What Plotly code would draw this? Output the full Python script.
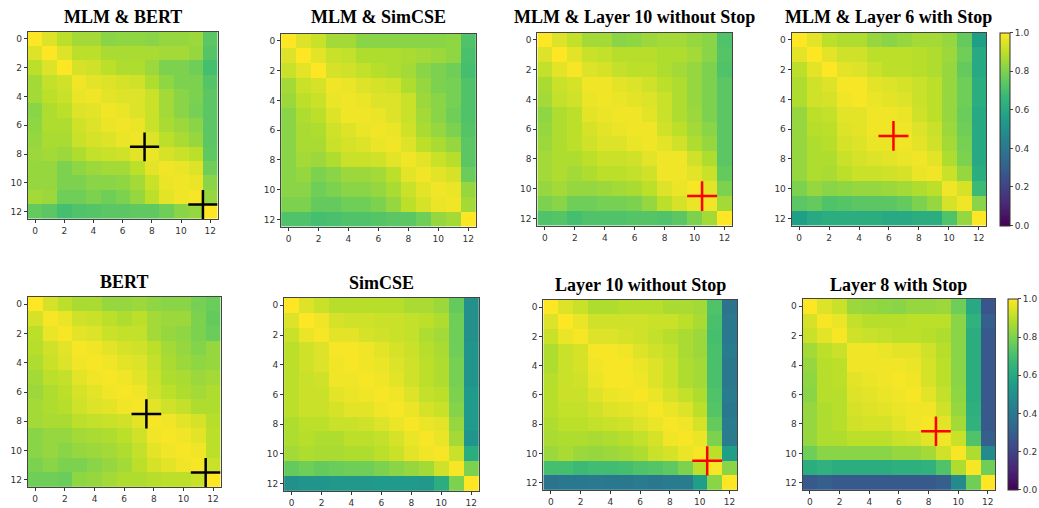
import plotly.graph_objects as go

W, H = 1039, 508

layers = list(range(13))
tick_vals = [0, 2, 4, 6, 8, 10, 12]
cbar_ticks = [0.0, 0.2, 0.4, 0.6, 0.8, 1.0]

titles = ['MLM & BERT', 'MLM & SimCSE', 'MLM & Layer 10 without Stop', 'MLM & Layer 6 with Stop',
          'BERT', 'SimCSE', 'Layer 10 without Stop', 'Layer 8 with Stop']

mlm_bert = [
    [1.00, 0.95, 0.90, 0.86, 0.86, 0.82, 0.83, 0.83, 0.82, 0.84, 0.84, 0.85, 0.74],
    [0.95, 1.00, 0.95, 0.90, 0.90, 0.87, 0.87, 0.87, 0.87, 0.86, 0.86, 0.84, 0.73],
    [0.90, 0.95, 1.00, 0.94, 0.93, 0.90, 0.88, 0.88, 0.85, 0.80, 0.80, 0.78, 0.70],
    [0.86, 0.91, 0.93, 0.98, 0.96, 0.95, 0.94, 0.93, 0.88, 0.83, 0.80, 0.80, 0.73],
    [0.86, 0.90, 0.92, 0.97, 0.98, 0.96, 0.95, 0.95, 0.92, 0.86, 0.82, 0.80, 0.74],
    [0.82, 0.88, 0.90, 0.95, 0.96, 0.98, 0.97, 0.95, 0.92, 0.86, 0.82, 0.79, 0.74],
    [0.83, 0.88, 0.88, 0.93, 0.95, 0.97, 0.98, 0.97, 0.92, 0.87, 0.85, 0.82, 0.74],
    [0.84, 0.87, 0.87, 0.92, 0.94, 0.95, 0.97, 0.98, 0.95, 0.90, 0.87, 0.84, 0.74],
    [0.85, 0.86, 0.85, 0.88, 0.91, 0.92, 0.93, 0.96, 0.97, 0.94, 0.92, 0.90, 0.75],
    [0.84, 0.84, 0.80, 0.83, 0.85, 0.86, 0.86, 0.90, 0.96, 0.98, 0.97, 0.95, 0.78],
    [0.84, 0.84, 0.80, 0.80, 0.82, 0.82, 0.83, 0.86, 0.92, 0.97, 0.98, 0.97, 0.82],
    [0.86, 0.85, 0.78, 0.78, 0.80, 0.78, 0.80, 0.84, 0.90, 0.96, 0.98, 0.99, 0.84],
    [0.76, 0.74, 0.70, 0.72, 0.73, 0.74, 0.74, 0.75, 0.75, 0.78, 0.82, 0.84, 1.00],
]

mlm_simcse = [
    [1.00, 0.95, 0.92, 0.86, 0.86, 0.82, 0.82, 0.82, 0.82, 0.82, 0.82, 0.83, 0.72],
    [0.95, 1.00, 0.96, 0.92, 0.91, 0.88, 0.88, 0.88, 0.87, 0.86, 0.85, 0.83, 0.71],
    [0.92, 0.96, 1.00, 0.94, 0.93, 0.91, 0.89, 0.88, 0.86, 0.82, 0.80, 0.78, 0.70],
    [0.86, 0.92, 0.94, 0.98, 0.97, 0.95, 0.94, 0.93, 0.88, 0.84, 0.80, 0.79, 0.72],
    [0.85, 0.90, 0.92, 0.97, 0.98, 0.97, 0.95, 0.95, 0.92, 0.85, 0.82, 0.79, 0.72],
    [0.82, 0.88, 0.90, 0.95, 0.98, 0.98, 0.97, 0.95, 0.92, 0.86, 0.82, 0.78, 0.72],
    [0.82, 0.87, 0.88, 0.93, 0.95, 0.97, 0.98, 0.97, 0.93, 0.87, 0.84, 0.80, 0.73],
    [0.82, 0.87, 0.87, 0.92, 0.94, 0.95, 0.97, 0.98, 0.95, 0.90, 0.87, 0.84, 0.74],
    [0.82, 0.86, 0.85, 0.88, 0.92, 0.92, 0.93, 0.96, 0.98, 0.96, 0.92, 0.89, 0.74],
    [0.82, 0.84, 0.80, 0.82, 0.85, 0.85, 0.86, 0.90, 0.96, 0.98, 0.96, 0.94, 0.77],
    [0.82, 0.82, 0.78, 0.80, 0.82, 0.82, 0.84, 0.87, 0.92, 0.96, 0.98, 0.97, 0.84],
    [0.80, 0.80, 0.76, 0.76, 0.78, 0.78, 0.80, 0.84, 0.90, 0.94, 0.97, 0.98, 0.86],
    [0.72, 0.72, 0.70, 0.71, 0.72, 0.72, 0.73, 0.74, 0.74, 0.78, 0.84, 0.86, 1.00],
]

mlm_layer10 = [
    [1.00, 0.95, 0.91, 0.86, 0.86, 0.82, 0.83, 0.85, 0.86, 0.86, 0.84, 0.82, 0.72],
    [0.95, 1.00, 0.96, 0.92, 0.91, 0.89, 0.89, 0.89, 0.88, 0.88, 0.86, 0.82, 0.73],
    [0.91, 0.96, 0.99, 0.95, 0.94, 0.91, 0.90, 0.90, 0.88, 0.86, 0.84, 0.80, 0.72],
    [0.87, 0.92, 0.94, 0.98, 0.98, 0.96, 0.95, 0.93, 0.90, 0.88, 0.84, 0.80, 0.74],
    [0.86, 0.91, 0.93, 0.97, 0.98, 0.97, 0.96, 0.95, 0.92, 0.88, 0.84, 0.80, 0.74],
    [0.83, 0.88, 0.90, 0.96, 0.97, 0.98, 0.98, 0.96, 0.92, 0.88, 0.85, 0.80, 0.74],
    [0.84, 0.88, 0.90, 0.94, 0.96, 0.97, 0.98, 0.98, 0.93, 0.90, 0.86, 0.82, 0.74],
    [0.85, 0.88, 0.90, 0.93, 0.95, 0.95, 0.97, 0.98, 0.96, 0.93, 0.88, 0.84, 0.74],
    [0.86, 0.88, 0.88, 0.90, 0.92, 0.92, 0.93, 0.96, 0.98, 0.98, 0.93, 0.88, 0.74],
    [0.86, 0.88, 0.86, 0.88, 0.90, 0.90, 0.91, 0.93, 0.98, 0.98, 0.96, 0.92, 0.76],
    [0.84, 0.86, 0.84, 0.84, 0.85, 0.86, 0.87, 0.90, 0.95, 0.97, 0.99, 0.96, 0.80],
    [0.80, 0.82, 0.78, 0.78, 0.79, 0.79, 0.80, 0.84, 0.90, 0.94, 0.97, 0.98, 0.86],
    [0.72, 0.73, 0.70, 0.72, 0.72, 0.72, 0.73, 0.73, 0.72, 0.74, 0.80, 0.86, 1.00],
]

mlm_layer6_stop = [
    [1.00, 0.96, 0.90, 0.88, 0.88, 0.84, 0.82, 0.84, 0.86, 0.86, 0.84, 0.76, 0.56],
    [0.96, 1.00, 0.96, 0.93, 0.93, 0.90, 0.90, 0.90, 0.89, 0.88, 0.85, 0.78, 0.60],
    [0.90, 0.96, 1.00, 0.96, 0.95, 0.92, 0.90, 0.90, 0.89, 0.88, 0.84, 0.76, 0.60],
    [0.88, 0.93, 0.95, 0.99, 0.99, 0.96, 0.95, 0.94, 0.92, 0.90, 0.84, 0.78, 0.62],
    [0.88, 0.93, 0.94, 0.98, 0.99, 0.97, 0.96, 0.95, 0.92, 0.90, 0.84, 0.78, 0.62],
    [0.84, 0.90, 0.91, 0.96, 0.96, 0.98, 0.98, 0.97, 0.93, 0.90, 0.84, 0.77, 0.60],
    [0.84, 0.89, 0.90, 0.95, 0.96, 0.98, 0.98, 0.98, 0.95, 0.92, 0.85, 0.78, 0.60],
    [0.84, 0.88, 0.89, 0.94, 0.95, 0.97, 0.97, 0.98, 0.96, 0.93, 0.86, 0.79, 0.60],
    [0.84, 0.88, 0.88, 0.92, 0.94, 0.95, 0.96, 0.97, 0.98, 0.96, 0.88, 0.80, 0.60],
    [0.84, 0.88, 0.87, 0.90, 0.92, 0.92, 0.93, 0.94, 0.97, 0.98, 0.92, 0.84, 0.62],
    [0.80, 0.84, 0.82, 0.83, 0.84, 0.84, 0.85, 0.86, 0.88, 0.90, 0.98, 0.94, 0.68],
    [0.74, 0.76, 0.72, 0.73, 0.74, 0.74, 0.74, 0.76, 0.80, 0.84, 0.94, 0.98, 0.82],
    [0.56, 0.60, 0.62, 0.62, 0.62, 0.62, 0.60, 0.60, 0.62, 0.62, 0.72, 0.84, 1.00],
]

bert = [
    [1.00, 0.94, 0.90, 0.87, 0.87, 0.84, 0.84, 0.85, 0.83, 0.82, 0.82, 0.79, 0.77],
    [0.94, 0.99, 0.97, 0.93, 0.92, 0.90, 0.88, 0.90, 0.86, 0.85, 0.85, 0.80, 0.76],
    [0.90, 0.97, 0.99, 0.96, 0.95, 0.92, 0.91, 0.91, 0.86, 0.84, 0.83, 0.80, 0.77],
    [0.89, 0.93, 0.96, 0.99, 0.98, 0.96, 0.94, 0.93, 0.90, 0.86, 0.84, 0.81, 0.84],
    [0.88, 0.92, 0.95, 0.98, 0.99, 0.98, 0.96, 0.95, 0.91, 0.87, 0.85, 0.83, 0.84],
    [0.86, 0.90, 0.91, 0.96, 0.98, 0.99, 0.98, 0.96, 0.92, 0.88, 0.87, 0.85, 0.86],
    [0.85, 0.88, 0.90, 0.94, 0.96, 0.98, 0.99, 0.98, 0.93, 0.90, 0.88, 0.86, 0.88],
    [0.86, 0.88, 0.89, 0.93, 0.95, 0.96, 0.98, 0.99, 0.96, 0.93, 0.91, 0.88, 0.88],
    [0.86, 0.87, 0.87, 0.90, 0.91, 0.92, 0.93, 0.96, 0.99, 0.98, 0.96, 0.94, 0.89],
    [0.82, 0.84, 0.84, 0.86, 0.87, 0.88, 0.90, 0.93, 0.98, 0.99, 0.98, 0.96, 0.90],
    [0.82, 0.84, 0.82, 0.84, 0.85, 0.86, 0.88, 0.91, 0.96, 0.98, 0.99, 0.98, 0.90],
    [0.80, 0.82, 0.80, 0.80, 0.82, 0.84, 0.86, 0.90, 0.94, 0.96, 0.98, 0.99, 0.92],
    [0.78, 0.78, 0.77, 0.83, 0.84, 0.86, 0.88, 0.88, 0.89, 0.90, 0.90, 0.92, 1.00],
]

simcse = [
    [1.00, 0.95, 0.92, 0.89, 0.89, 0.89, 0.89, 0.89, 0.87, 0.87, 0.85, 0.76, 0.50],
    [0.95, 1.00, 0.98, 0.94, 0.93, 0.93, 0.92, 0.92, 0.91, 0.90, 0.88, 0.78, 0.50],
    [0.92, 0.97, 0.99, 0.96, 0.96, 0.94, 0.93, 0.92, 0.91, 0.88, 0.86, 0.78, 0.50],
    [0.90, 0.93, 0.95, 0.99, 0.99, 0.98, 0.96, 0.94, 0.92, 0.89, 0.87, 0.78, 0.52],
    [0.90, 0.93, 0.95, 0.98, 0.99, 0.98, 0.97, 0.95, 0.93, 0.90, 0.88, 0.79, 0.52],
    [0.90, 0.92, 0.93, 0.98, 0.98, 0.99, 0.98, 0.96, 0.93, 0.90, 0.88, 0.79, 0.52],
    [0.90, 0.92, 0.92, 0.96, 0.97, 0.98, 0.99, 0.98, 0.95, 0.91, 0.90, 0.80, 0.54],
    [0.90, 0.92, 0.92, 0.94, 0.96, 0.96, 0.98, 0.99, 0.97, 0.94, 0.92, 0.81, 0.54],
    [0.88, 0.90, 0.90, 0.92, 0.92, 0.93, 0.95, 0.97, 0.99, 0.97, 0.96, 0.84, 0.54],
    [0.88, 0.89, 0.88, 0.88, 0.90, 0.90, 0.91, 0.94, 0.97, 0.99, 0.97, 0.86, 0.52],
    [0.86, 0.88, 0.87, 0.87, 0.88, 0.88, 0.90, 0.92, 0.96, 0.98, 0.99, 0.92, 0.62],
    [0.76, 0.78, 0.76, 0.77, 0.78, 0.78, 0.80, 0.82, 0.84, 0.86, 0.93, 0.99, 0.80],
    [0.50, 0.52, 0.52, 0.53, 0.53, 0.53, 0.54, 0.54, 0.54, 0.53, 0.62, 0.80, 1.00],
]

layer10 = [
    [1.00, 0.95, 0.92, 0.88, 0.88, 0.89, 0.89, 0.89, 0.87, 0.87, 0.86, 0.72, 0.38],
    [0.95, 1.00, 0.97, 0.93, 0.93, 0.93, 0.93, 0.92, 0.92, 0.90, 0.87, 0.71, 0.40],
    [0.92, 0.97, 0.99, 0.95, 0.95, 0.94, 0.93, 0.91, 0.89, 0.87, 0.85, 0.70, 0.40],
    [0.88, 0.92, 0.94, 0.99, 0.99, 0.98, 0.95, 0.93, 0.91, 0.87, 0.85, 0.71, 0.42],
    [0.88, 0.92, 0.94, 0.98, 0.99, 0.99, 0.97, 0.95, 0.92, 0.88, 0.86, 0.71, 0.40],
    [0.89, 0.92, 0.93, 0.97, 0.99, 0.99, 0.98, 0.95, 0.92, 0.88, 0.86, 0.71, 0.40],
    [0.89, 0.92, 0.92, 0.95, 0.97, 0.98, 0.99, 0.97, 0.94, 0.91, 0.88, 0.72, 0.42],
    [0.89, 0.91, 0.91, 0.93, 0.95, 0.96, 0.97, 0.99, 0.97, 0.95, 0.90, 0.73, 0.40],
    [0.88, 0.90, 0.90, 0.91, 0.92, 0.93, 0.95, 0.97, 0.99, 0.98, 0.94, 0.76, 0.42],
    [0.87, 0.88, 0.88, 0.87, 0.88, 0.89, 0.91, 0.94, 0.98, 0.99, 0.97, 0.80, 0.42],
    [0.85, 0.87, 0.85, 0.84, 0.85, 0.86, 0.88, 0.92, 0.94, 0.97, 0.99, 0.90, 0.56],
    [0.70, 0.70, 0.68, 0.69, 0.69, 0.70, 0.72, 0.73, 0.75, 0.80, 0.90, 0.99, 0.82],
    [0.38, 0.40, 0.40, 0.41, 0.40, 0.40, 0.42, 0.40, 0.42, 0.42, 0.56, 0.82, 1.00],
]

layer8_stop = [
    [1.00, 0.95, 0.92, 0.85, 0.84, 0.83, 0.82, 0.84, 0.84, 0.85, 0.78, 0.60, 0.27],
    [0.94, 0.99, 0.97, 0.91, 0.89, 0.89, 0.89, 0.90, 0.90, 0.90, 0.82, 0.64, 0.30],
    [0.92, 0.96, 0.99, 0.93, 0.92, 0.91, 0.90, 0.90, 0.89, 0.88, 0.82, 0.62, 0.28],
    [0.86, 0.90, 0.92, 0.98, 0.98, 0.97, 0.96, 0.96, 0.93, 0.89, 0.82, 0.62, 0.28],
    [0.84, 0.89, 0.90, 0.98, 0.98, 0.98, 0.98, 0.97, 0.94, 0.90, 0.82, 0.62, 0.28],
    [0.83, 0.89, 0.90, 0.96, 0.97, 0.98, 0.99, 0.98, 0.94, 0.90, 0.82, 0.62, 0.28],
    [0.82, 0.89, 0.89, 0.95, 0.96, 0.97, 0.98, 0.99, 0.96, 0.91, 0.83, 0.62, 0.28],
    [0.84, 0.88, 0.89, 0.94, 0.95, 0.96, 0.97, 0.98, 0.98, 0.93, 0.84, 0.63, 0.28],
    [0.84, 0.88, 0.89, 0.93, 0.94, 0.94, 0.96, 0.98, 0.99, 0.96, 0.86, 0.64, 0.28],
    [0.84, 0.88, 0.88, 0.90, 0.90, 0.90, 0.92, 0.93, 0.96, 0.98, 0.92, 0.72, 0.30],
    [0.78, 0.82, 0.82, 0.82, 0.82, 0.82, 0.84, 0.84, 0.86, 0.93, 0.99, 0.88, 0.48],
    [0.62, 0.64, 0.62, 0.62, 0.62, 0.62, 0.63, 0.63, 0.64, 0.72, 0.88, 0.99, 0.78],
    [0.28, 0.30, 0.28, 0.28, 0.28, 0.28, 0.28, 0.28, 0.28, 0.30, 0.48, 0.78, 1.00],
]

# highlighted cells (cross centres) per panel
cross_x = [[7.5, 11.5], [], [10.5], [6.3], [7.5, 11.5], [], [10.5], [8.5]]
cross_y = [[7.5, 11.5], [], [10.5], [6.45], [7.5, 11.5], [], [10.5], [8.5]]
cross_color = ['black', 'black', 'red', 'red', 'black', 'black', 'red', 'red']

matrices = [mlm_bert, mlm_simcse, mlm_layer10, mlm_layer6_stop, bert, simcse, layer10, layer8_stop]

# panel boxes in pixels: left, right, top, bottom
boxes = [
    (28, 219, 32, 222), (283, 479, 34, 230), (541, 737, 33, 229), (797, 993, 33, 229),
    (28, 222, 301, 494), (286, 482, 302, 498), (547, 742, 304, 497), (808, 1002, 303, 497),
]
title_y = [17, 17, 17, 17, 286, 287, 289, 289]
cbar_boxes = {3: (1007, 33, 229), 7: (1015, 303, 497)}

fig = go.Figure()
layout = {}
annotations = []

for i, z in enumerate(matrices):
    n = i + 1
    xa = 'x' if n == 1 else f'x{n}'
    ya = 'y' if n == 1 else f'y{n}'
    l, r, t, b = boxes[i]

    hm = dict(z=z, x=layers, y=layers, colorscale='Viridis', zmin=0, zmax=1,
              xaxis=xa, yaxis=ya, showscale=False)
    if i in cbar_boxes:
        cx, ct, cb = cbar_boxes[i]
        hm['showscale'] = True
        hm['colorbar'] = dict(
            x=cx / W, xanchor='left', y=1 - ct / H, yanchor='top',
            len=(cb - ct) / H, lenmode='fraction', thickness=10,
            xpad=0, ypad=0, outlinewidth=1, outlinecolor='#333',
            tickvals=cbar_ticks, ticktext=[f'{v:.1f}' for v in cbar_ticks],
            ticks='outside', ticklen=3, tickfont=dict(size=9, color='#333', family='DejaVu Sans'),
        )
    fig.add_trace(go.Heatmap(**hm))

    xs, ys = [], []
    for cx0, cy0 in zip(cross_x[i], cross_y[i]):
        xs += [cx0 - 1, cx0 + 1, None, cx0, cx0, None]
        ys += [cy0, cy0, None, cy0 - 1, cy0 + 1, None]
    if xs:
        fig.add_trace(go.Scatter(x=xs, y=ys, mode='lines', xaxis=xa, yaxis=ya,
                                 line=dict(color=cross_color[i], width=2.5),
                                 showlegend=False, hoverinfo='skip'))

    axis_common = dict(tickvals=tick_vals, ticks='outside', ticklen=3, tickcolor='#333',
                       tickfont=dict(size=9, color='#333', family='DejaVu Sans'),
                       showgrid=False, zeroline=False, showline=True, mirror=True,
                       linecolor='#444', linewidth=1)
    layout['xaxis' if n == 1 else f'xaxis{n}'] = dict(
        domain=[l / W, r / W], range=[-0.5, 12.5], anchor=ya, **axis_common)
    layout['yaxis' if n == 1 else f'yaxis{n}'] = dict(
        domain=[1 - b / H, 1 - t / H], range=[12.5, -0.5], anchor=xa, **axis_common)

    annotations.append(dict(
        text=f'<b>{titles[i]}</b>', x=(l + r) / 2 / W, y=1 - title_y[i] / H,
        xref='paper', yref='paper', xanchor='center', yanchor='middle', showarrow=False,
        font=dict(family='Liberation Serif', size=18, color='black'),
    ))

fig.update_layout(
    width=W, height=H, margin=dict(l=0, r=0, t=0, b=0),
    paper_bgcolor='white', plot_bgcolor='white',
    annotations=annotations, showlegend=False, **layout,
)

# remove the default page margin so the figure sits at the window's top-left corner
fig.write_html('out.html', config={'displayModeBar': False},
               post_script="document.body.style.margin='0';")
